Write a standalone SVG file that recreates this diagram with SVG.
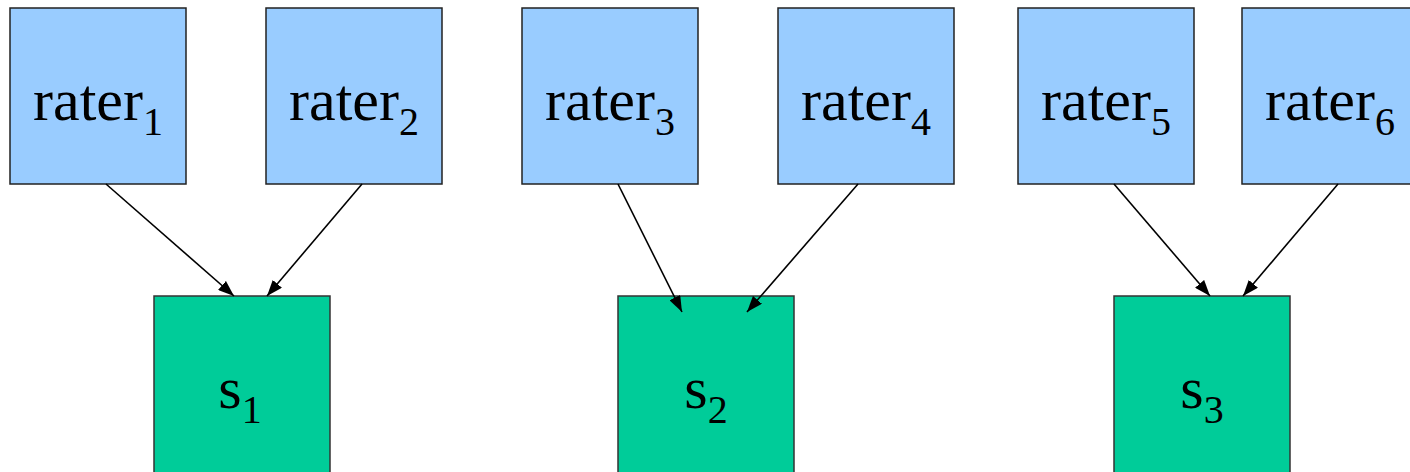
<svg xmlns="http://www.w3.org/2000/svg" width="1410" height="472" viewBox="0 0 1410 472">
<style>
.rater{fill:#99ccff;stroke:#222;stroke-width:1.5}
.s{fill:#00cc99;stroke:#333;stroke-width:1.5}
.edge{stroke:#000;stroke-width:1.6;fill:none;marker-end:url(#arr)}
</style>
<defs>
<marker id="arr" markerUnits="userSpaceOnUse" markerWidth="16" markerHeight="12" refX="16" refY="6" orient="auto">
<path d="M0,0 L16,6 L0,12 z" fill="#000"/>
</marker>
</defs>
<rect width="1410" height="472" fill="#fff"/>
<g id="rater1"><rect class="rater" x="10" y="8" width="176" height="176"/><text font-family="Liberation Serif" font-size="60" text-anchor="middle" x="98" y="120">rater<tspan font-size="40" dy="15">1</tspan></text></g>
<g id="rater2"><rect class="rater" x="266" y="8" width="176" height="176"/><text font-family="Liberation Serif" font-size="60" text-anchor="middle" x="354" y="120">rater<tspan font-size="40" dy="15">2</tspan></text></g>
<g id="rater3"><rect class="rater" x="522" y="8" width="176" height="176"/><text font-family="Liberation Serif" font-size="60" text-anchor="middle" x="610" y="120">rater<tspan font-size="40" dy="15">3</tspan></text></g>
<g id="rater4"><rect class="rater" x="778" y="8" width="176" height="176"/><text font-family="Liberation Serif" font-size="60" text-anchor="middle" x="866" y="120">rater<tspan font-size="40" dy="15">4</tspan></text></g>
<g id="rater5"><rect class="rater" x="1018" y="8" width="176" height="176"/><text font-family="Liberation Serif" font-size="60" text-anchor="middle" x="1106" y="120">rater<tspan font-size="40" dy="15">5</tspan></text></g>
<g id="rater6"><rect class="rater" x="1242" y="8" width="176" height="176"/><text font-family="Liberation Serif" font-size="60" text-anchor="middle" x="1330" y="120">rater<tspan font-size="40" dy="15">6</tspan></text></g>
<g id="s1"><rect class="s" x="154" y="296" width="176" height="180"/><text font-family="Liberation Serif" font-size="60" text-anchor="middle" x="240" y="408">s<tspan font-size="40" dy="15">1</tspan></text></g>
<g id="s2"><rect class="s" x="618" y="296" width="176" height="180"/><text font-family="Liberation Serif" font-size="60" text-anchor="middle" x="706" y="408">s<tspan font-size="40" dy="15">2</tspan></text></g>
<g id="s3"><rect class="s" x="1114" y="296" width="176" height="180"/><text font-family="Liberation Serif" font-size="60" text-anchor="middle" x="1202" y="408">s<tspan font-size="40" dy="15">3</tspan></text></g>
<g id="connectors">
<line class="edge" x1="106" y1="184" x2="234" y2="296"/>
<line class="edge" x1="362" y1="184" x2="267" y2="296"/>
<line class="edge" x1="618" y1="184" x2="682" y2="312"/>
<line class="edge" x1="858" y1="184" x2="747" y2="312"/>
<line class="edge" x1="1114" y1="184" x2="1210" y2="296"/>
<line class="edge" x1="1338" y1="184" x2="1243" y2="296"/>
</g>
</svg>
